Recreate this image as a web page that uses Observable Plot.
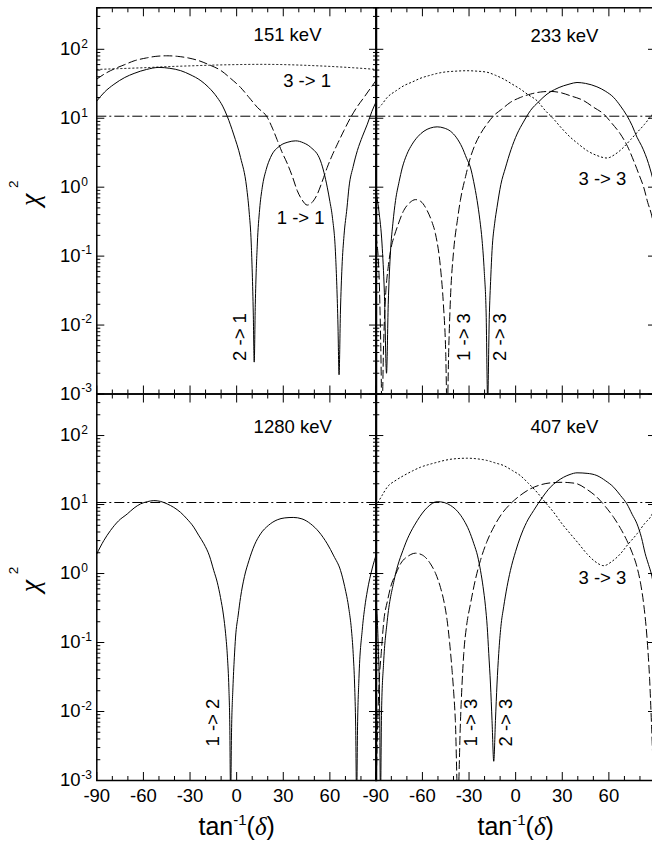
<!DOCTYPE html>
<html><head><meta charset="utf-8">
<script src="https://cdn.jsdelivr.net/npm/d3@7"></script>
<script src="https://cdn.jsdelivr.net/npm/@observablehq/plot@0.6"></script>
<style>
html,body{margin:0;padding:0;background:#fff;overflow:hidden;}
#chart{position:relative;width:652px;height:852px;overflow:hidden;background:#fff;}
#chart svg{position:absolute;left:0;top:0;}
</style></head><body><div id="chart"></div>
<script>
// ---------- data: [tan^-1(delta) in degrees, chi^2] ----------
// 151 keV
const k151_21 = [[-90,17.8],[-85,24],[-79,31],[-72,39],[-66,44.7],[-58,51],[-50,54.6],[-43,53],[-36,49],[-30,43],[-23,35],[-18,28],[-12.5,20],[-9,15],[-6,10.6],[-2,5.9],[2.5,2.7],[6.4,1.0],[8,0.45],[9.4,0.15],[10.7,0.015],[11.3,0.0029],[12,0.02],[13.3,0.15],[14.8,0.48],[16.5,1.0],[19,1.8],[21.8,2.7],[28,4.0],[33,4.5],[38,4.7],[43,4.4],[47.6,3.8],[54,2.4],[58.3,1.0],[60,0.62],[61.6,0.37],[63.7,0.1],[65.2,0.01],[65.9,0.0019],[66.8,0.016],[67.8,0.07],[69.1,0.2],[71,0.5],[72.3,1.0],[75,2.0],[77.7,3.4],[81,5.5],[84.1,8.2],[87,12.5],[90,17.8]];
const k151_11 = [[-90,37],[-85,44],[-79,51.7],[-72,60],[-66,68],[-58,75],[-52,79],[-45,80.5],[-38,79],[-30,74],[-24,68],[-18,60],[-10,49],[-4,38],[2.5,28],[8,20],[13.3,14.4],[19.7,10.3],[23,7.2],[26,4.9],[29,3.3],[32.6,2.2],[36,1.4],[39,0.89],[42,0.66],[45.4,0.55],[48.5,0.6],[52,0.8],[55,1.2],[58.3,1.94],[61.5,2.9],[64.8,4.2],[69,6.6],[73.4,10.3],[77.5,14.6],[81.9,20],[86,27],[90,36]];
const k151_31 = [[-90,51],[-75,52.5],[-60,54],[-45,56],[-30,57.5],[-15,59],[0,60],[15,60.5],[30,60],[45,58.5],[60,56.5],[75,54],[90,51]];
// 233 keV
const k233_23 = [[-90,0.9],[-88,0.45],[-86,0.15],[-84.5,0.03],[-83.1,0.002],[-82,0.02],[-80.5,0.12],[-79,0.3],[-77.3,0.64],[-75,1.2],[-73,1.9],[-70,3.0],[-66.6,4.2],[-63,5.4],[-59,6.5],[-55,7.2],[-50.5,7.5],[-46,7.2],[-42,6.5],[-38,5.2],[-34.5,3.8],[-31.5,2.6],[-29,1.9],[-27,1.2],[-24.8,0.64],[-23,0.33],[-21.6,0.17],[-20.2,0.06],[-19,0.015],[-18,0.0008],[-17,0.012],[-16,0.05],[-15.2,0.12],[-13.5,0.3],[-12,0.51],[-9.5,1.1],[-6.6,1.9],[-3,3.5],[0.9,5.9],[5,8.8],[9.5,12.9],[15,17.5],[20.2,22.4],[25,26],[30.9,29.6],[35,31.5],[39.5,33],[45,32],[52.3,28.6],[58,24.5],[63.1,20],[67.5,15],[71.6,10.9],[75,7.8],[78.1,5.3],[81,4.0],[83.4,3.0],[85.5,2.2],[87.3,1.6],[90,0.9]];
const k233_13 = [[-90,0.2],[-88,0.06],[-86.8,0.005],[-86,0.0005],[-85,0.005],[-84,0.02],[-82,0.07],[-80.5,0.12],[-78,0.2],[-76.3,0.26],[-72,0.46],[-68,0.6],[-64.5,0.66],[-61,0.62],[-57,0.46],[-54,0.32],[-51.6,0.21],[-48.4,0.069],[-46.5,0.02],[-45,0.004],[-44.1,0.0005],[-43,0.005],[-42,0.023],[-39.9,0.12],[-37.5,0.33],[-35.6,0.64],[-32,1.5],[-29.1,2.7],[-26,4.2],[-22.7,5.9],[-18,8.5],[-14.1,10.9],[-9,13.5],[-3.4,17],[3,20],[9.5,22.4],[16,24],[22.3,24.5],[29,23.5],[35.2,21.2],[43.8,18],[50,14.5],[56.7,11.5],[62,8.4],[67.4,5.9],[72,3.9],[76,2.4],[79.5,1.5],[82.4,1.0],[85,0.6],[87.3,0.41],[90,0.2]];
const k233_33 = [[-90,12.9],[-86,16],[-82.7,20],[-77,25],[-72,29.6],[-66,34],[-61.3,38],[-55,42],[-50.5,44.7],[-45,47],[-39.8,48],[-31.2,48.9],[-25,48.2],[-18.4,46.5],[-13,42],[-7.7,37],[-2,31],[3,26.5],[8,22],[13.7,18],[19,13],[24.5,9.7],[30,7],[35.2,5.3],[40,4.3],[45.9,3.4],[52,2.9],[58.8,2.65],[64,3.0],[69.5,3.8],[74,4.9],[78.1,6.2],[83,8.2],[87.3,10.9],[90,12.9]];
// 1280 keV
const k1280_12 = [[-90,1.93],[-85.5,3.0],[-81.2,4.2],[-76,5.8],[-70.4,7.3],[-66,8.9],[-61.9,10.2],[-57.5,11],[-53.3,11.4],[-49,11.1],[-44.7,10.2],[-40.5,9.1],[-36.1,7.7],[-32,6.2],[-27.6,4.7],[-24.5,3.6],[-21.1,2.7],[-17.5,1.8],[-14.7,1.1],[-12.5,0.75],[-10.4,0.45],[-8.5,0.25],[-7.1,0.134],[-5.9,0.06],[-5.0,0.022],[-4.4,0.006],[-3.9,0.0005],[-3.3,0.005],[-2.4,0.022],[-1.5,0.06],[-0.7,0.12],[1,0.25],[2.5,0.45],[5,0.9],[7.9,1.54],[11.5,2.6],[15.4,3.76],[20.5,5.0],[26.1,6.0],[31,6.4],[36.4,6.5],[42,6.2],[47.6,5.25],[53,4.0],[58.3,2.7],[62.5,1.8],[66.9,1.1],[69.5,0.65],[72.3,0.3],[73.8,0.16],[75,0.069],[75.9,0.025],[76.6,0.006],[77.2,0.0005],[77.8,0.006],[78.7,0.03],[80.8,0.15],[82.5,0.33],[84.1,0.56],[87.3,1.2],[90,1.93]];
// 407 keV
const k407_23 = [[-90,0.45],[-88.5,0.1],[-87.5,0.01],[-87,0.0005],[-86.3,0.01],[-85,0.05],[-82.7,0.2],[-78.2,0.8],[-71.8,2.4],[-63.2,5.9],[-56.8,9.1],[-50.5,11],[-46,10.7],[-41.9,9.7],[-37.5,8.0],[-33.3,5.9],[-30,4.2],[-26.9,2.7],[-24.5,1.8],[-22.6,1.1],[-21,0.65],[-19.4,0.33],[-18.3,0.17],[-17.3,0.069],[-16.2,0.025],[-15.2,0.0074],[-14.1,0.0019],[-13,0.0074],[-12,0.025],[-10.9,0.069],[-9.5,0.17],[-7.7,0.33],[-5.5,0.65],[-3.4,1.1],[0,2.1],[3,3.37],[7,5.5],[11.6,8.2],[17,12.5],[22.3,17.8],[26.5,21.5],[30.9,24.9],[35,27.3],[39.5,28.8],[46,28.3],[52.3,26.3],[58,22],[63.1,17.8],[67.5,13.5],[71.6,10.2],[75,7.2],[78.1,5.25],[81,3.3],[83.4,1.93],[85.5,1.35],[87.3,0.99],[90,0.45]];
const k407_13 = [[-90,0.0005],[-88,0.0226],[-86.5,0.07],[-84.8,0.21],[-82.5,0.4],[-80.5,0.63],[-77,1.0],[-74.1,1.38],[-69,1.8],[-64.5,1.97],[-60,1.85],[-54.8,1.38],[-51.5,1.0],[-48.4,0.63],[-46,0.38],[-44.1,0.21],[-42.5,0.1],[-40.9,0.039],[-39.8,0.018],[-38.8,0.0074],[-37.2,0.0005],[-35.5,0.0074],[-34.5,0.025],[-33.4,0.069],[-31.5,0.18],[-29.1,0.36],[-26,0.8],[-22.7,1.54],[-18.5,2.9],[-14.1,4.7],[-9,7.3],[-3.4,10.2],[3,13.6],[9.5,16.9],[16,19.3],[22.3,20.6],[29.9,21],[35,20.7],[39.5,20],[46,16.5],[52.3,12.8],[58,9.2],[63.1,6.5],[67.5,4.5],[71.6,3.0],[75,2.0],[78.1,1.24],[80.5,0.7],[82.4,0.36],[84.5,0.12],[86.2,0.03],[87.5,0.006],[89,0.0008],[90,0.0005]];
const k407_33 = [[-90,9.5],[-86,13.5],[-82.7,17.8],[-77,22.5],[-72,26.3],[-66,31],[-61.3,34.7],[-55,38.5],[-50.5,41],[-45,44],[-39.8,45.9],[-31.2,46.9],[-25,46],[-18.4,43.5],[-13,40],[-7.7,36.7],[-2,31],[3,26.3],[8,20.5],[13.7,15.1],[19,10.8],[24.5,7.7],[30,5.2],[35.2,3.76],[40,2.8],[45.9,1.93],[51,1.5],[56.7,1.3],[62,1.5],[67.4,1.93],[72,2.6],[78.1,3.76],[83,5.3],[87.3,6.9],[90,9.5]];

const chiLimit = [10.7];
const xMajor = [-90, -60, -30, 0, 30, 60, 90];
const xMinor = [-80, -70, -50, -40, -20, -10, 10, 20, 40, 50, 70, 80];
const xTickLabels = [-90, -60, -30, 0, 30, 60];
const yMajor = [1e-3, 1e-2, 1e-1, 1, 10, 100];
const yExponents = ["-3", "-2", "-1", "0", "1", "2"];
const minorMult = [2, 3, 4, 5, 6, 7, 8, 9];
const yMinor = yMajor.flatMap(d => minorMult.map(m => +(d * m).toPrecision(3))).filter(v => v <= 400);

// ---------- layout ----------
const W = 656, H = 852;
const FONT = "'Liberation Sans', Arial, Helvetica, sans-serif";
const SOLID = null, DASH = "8,4", DOT = "1.2,2.8", DASHDOT = "10,3,2,3";

const panels = [
  {frame: [96.3, 7.3, 376, 393.5], left: true, bottom: false,
   series: [[k151_21, SOLID], [k151_11, DASH], [k151_31, DOT]],
   notes: [{t: "151 keV", x: 10.9, y: 162, a: "start", r: 0},
           {t: "3 -> 1", x: 45.3, y: 34.9, a: "middle", r: 0},
           {t: "1 -> 1", x: 41.2, y: 0.36, a: "middle", r: 0},
           {t: "2 -> 1", x: 2.2, y: 0.0067, a: "middle", r: -90}]},
  {frame: [375.3, 7.3, 655, 393.5], left: false, bottom: false,
   series: [[k233_23, SOLID], [k233_13, DASH], [k233_33, DOT]],
   notes: [{t: "233 keV", x: 9.5, y: 157, a: "start", r: 0},
           {t: "3 -> 3", x: 55.8, y: 1.33, a: "middle", r: 0},
           {t: "1 -> 3", x: -33.0, y: 0.0067, a: "middle", r: -90},
           {t: "2 -> 3", x: -10.1, y: 0.0067, a: "middle", r: -90}]},
  {frame: [96.3, 393.5, 376, 780], left: true, bottom: true,
   series: [[k1280_12, SOLID]],
   notes: [{t: "1280 keV", x: 10.9, y: 131, a: "start", r: 0},
           {t: "1 -> 2", x: -15.2, y: 0.0069, a: "middle", r: -90}]},
  {frame: [375.3, 393.5, 655, 780], left: false, bottom: true,
   series: [[k407_23, SOLID], [k407_13, DASH], [k407_33, DOT]],
   notes: [{t: "407 keV", x: 9.5, y: 131, a: "start", r: 0},
           {t: "3 -> 3", x: 55.8, y: 0.85, a: "middle", r: 0},
           {t: "1 -> 3", x: -28.8, y: 0.0069, a: "middle", r: -90},
           {t: "2 -> 3", x: -6.3, y: 0.0069, a: "middle", r: -90}]}
];

const chart = document.getElementById("chart");

for (const p of panels) {
  const [l, t, r, b] = p.frame;
  const marks = [
    Plot.ruleY(chiLimit, {stroke: "#000", strokeWidth: 1, strokeDasharray: DASHDOT}),
    ...p.series.map(([data, dash]) => Plot.line(data, {
      x: d => d[0], y: d => d[1], stroke: "#000", strokeWidth: 1,
      strokeDasharray: dash, curve: "monotone-x", clip: true
    })),
    // inward ticks on all four sides
    Plot.axisX(xMajor, {anchor: "bottom", tickSize: -8, fill: "none", label: null, stroke: "#000"}),
    Plot.axisX(xMinor, {anchor: "bottom", tickSize: -4, fill: "none", label: null, stroke: "#000"}),
    Plot.axisX(xMajor, {anchor: "top", tickSize: -8, fill: "none", label: null, stroke: "#000"}),
    Plot.axisX(xMinor, {anchor: "top", tickSize: -4, fill: "none", label: null, stroke: "#000"}),
    Plot.axisY(yMajor, {anchor: "left", tickSize: -8, fill: "none", label: null, stroke: "#000"}),
    Plot.axisY(yMinor, {anchor: "left", tickSize: -4, fill: "none", label: null, stroke: "#000"}),
    Plot.axisY(yMajor, {anchor: "right", tickSize: -8, fill: "none", label: null, stroke: "#000"}),
    Plot.axisY(yMinor, {anchor: "right", tickSize: -4, fill: "none", label: null, stroke: "#000"}),
    Plot.frame({stroke: "#000", strokeWidth: 1.5}),
    Plot.text(p.notes, {x: "x", y: "y", text: "t", textAnchor: d => d.a, rotate: "r",
      fontSize: 18.5, fill: "#000"})
  ];
  // text anchor must be a constant in Plot; split by anchor
  marks.pop();
  for (const a of ["start", "middle"]) {
    for (const rr of [0, -90]) {
      const sub = p.notes.filter(d => d.a === a && d.r === rr);
      if (sub.length) marks.push(Plot.text(sub, {x: "x", y: "y", text: "t", textAnchor: a, rotate: rr, fontSize: 18.5, fill: "#000"}));
    }
  }
  if (p.left) {
    marks.push(
      Plot.axisY(yMajor, {anchor: "left", tickSize: 0, tickPadding: 16.3, tickFormat: () => "10", fontSize: 18.5, label: null, fill: "#000"}),
      Plot.text(yMajor, {y: d => d, text: (d, i) => yExponents[i], frameAnchor: "left", textAnchor: "start", dx: -15.6, dy: -5.5, fontSize: 12, fill: "#000"}),
      Plot.text(["\u03C7"], {frameAnchor: "left", dx: -66.3, dy: 5, rotate: -90, fontSize: 28, fontFamily: "'Liberation Serif', 'DejaVu Serif', serif", fontStyle: "italic", fill: "#000"}),
      Plot.text(["2"], {frameAnchor: "left", dx: -83.5, dy: -13, rotate: -90, fontSize: 13.5, fill: "#000"})
    );
  }
  if (p.bottom) {
    marks.push(
      Plot.axisX(xTickLabels, {anchor: "bottom", tickSize: 0, tickPadding: 8.6, tickFormat: d => String(d), fontSize: 18.5, label: null, fill: "#000"}),
      Plot.text(["tan-1(d)"], {frameAnchor: "bottom", dy: 54, fontSize: 25, fill: "#000"})
    );
  }
  const svg = Plot.plot({
    width: W, height: H,
    marginLeft: l, marginTop: t, marginRight: W - r, marginBottom: H - b,
    x: {domain: [-90, 90], axis: null},
    y: {type: "log", domain: [1e-3, 400], axis: null},
    style: `max-width:none;background:transparent;overflow:visible;font-family:${FONT};color:#000;`,
    marks
  });
  // rich text for the x-axis title: tan^-1(δ)
  d3.select(svg).selectAll("text").filter(function () { return this.textContent === "tan-1(d)"; })
    .each(function () {
      const t = d3.select(this);
      t.text(null);
      t.append("tspan").text("tan");
      t.append("tspan").attr("dy", -10).attr("font-size", 15).text("-1");
      t.append("tspan").attr("dy", 10).text("(");
      t.append("tspan").attr("font-family", "'Liberation Serif', 'DejaVu Serif', serif").attr("font-style", "italic").text("\u03B4");
      t.append("tspan").text(")");
    });
  chart.appendChild(svg);
}
</script></body></html>
